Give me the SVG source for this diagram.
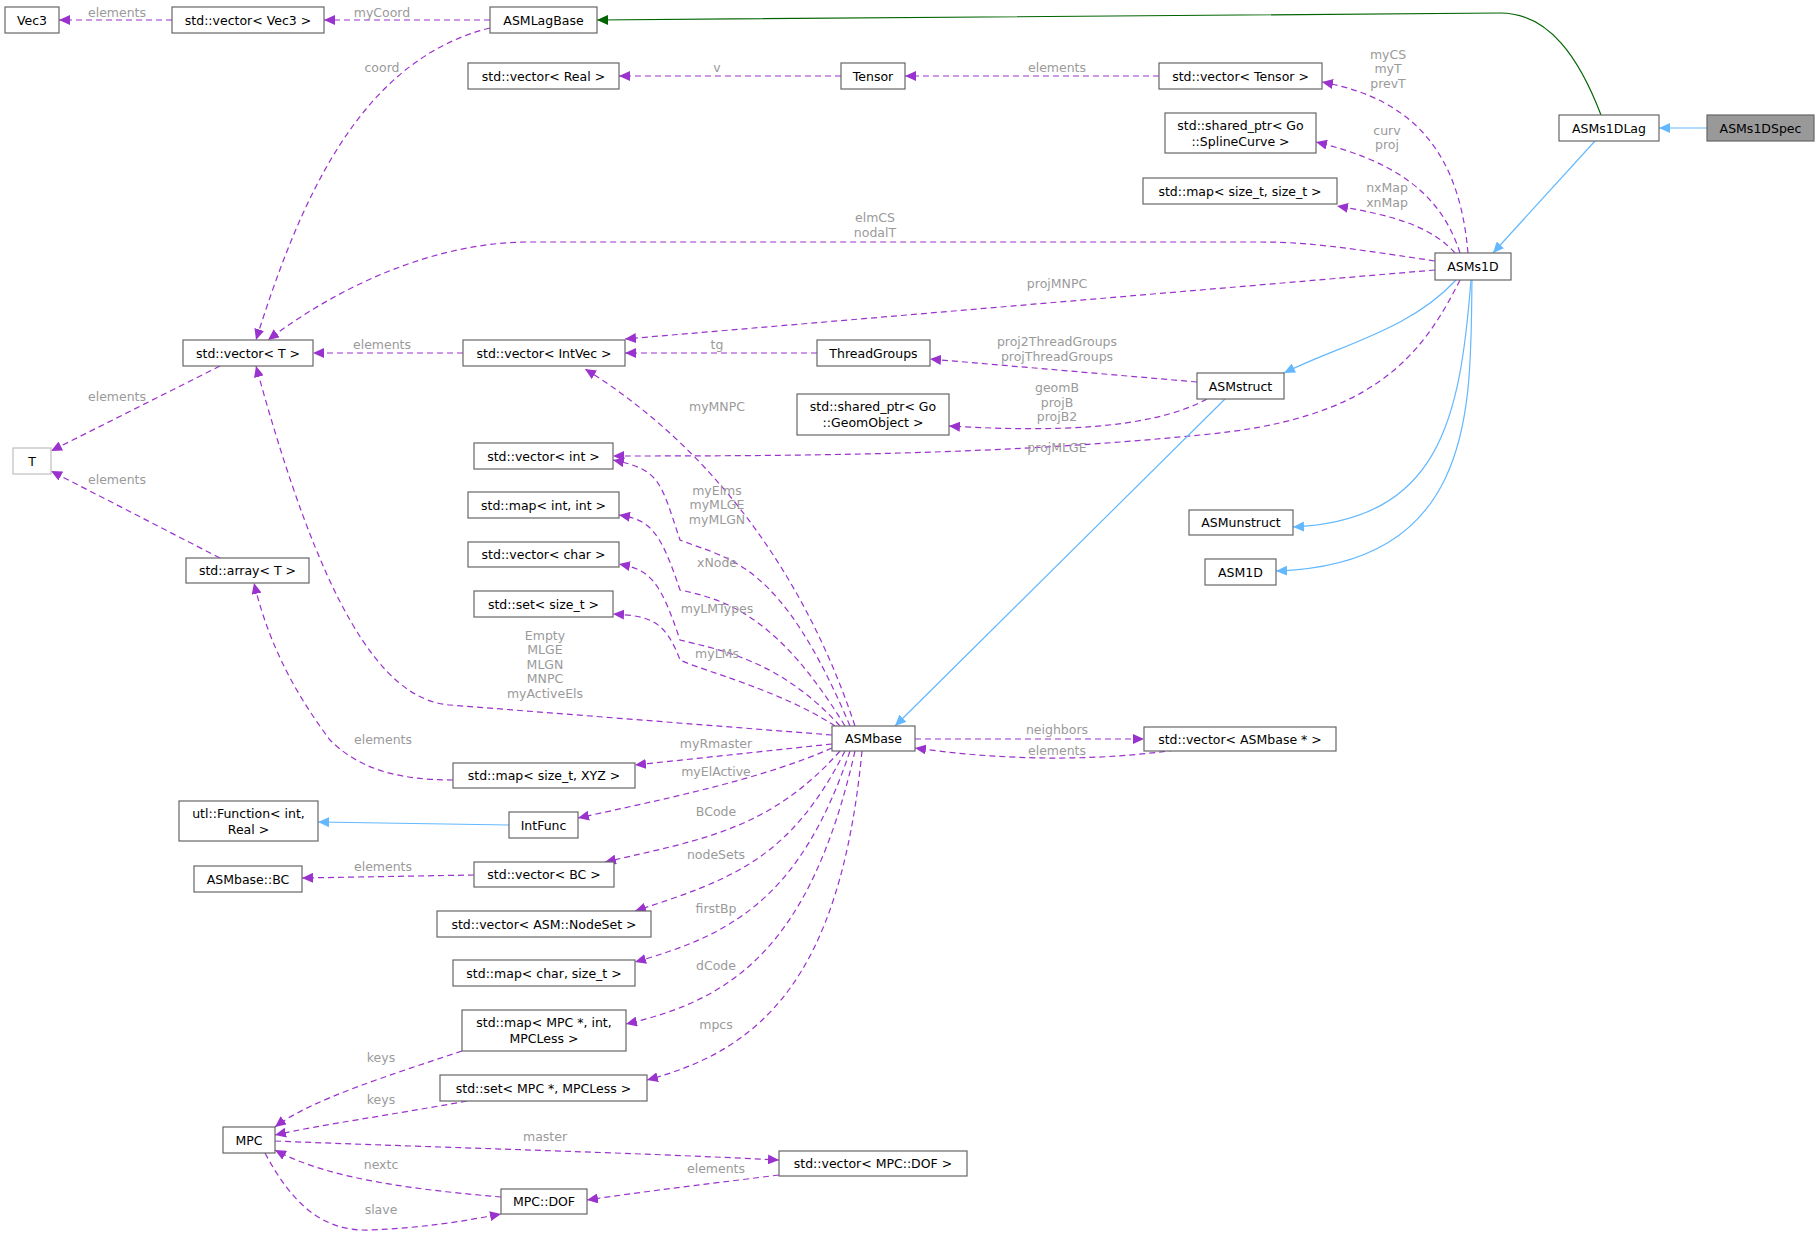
<svg xmlns="http://www.w3.org/2000/svg" width="1820" height="1234" viewBox="0 0 1820 1234">
<defs>
<style>
.n rect{fill:#fff;stroke:#666;stroke-width:1.2}
.n text{font-family:"DejaVu Sans",sans-serif;font-size:12.5px;fill:#000;text-anchor:middle}
.e path{fill:none}
.d{stroke:#9a32cd;stroke-width:1.2;stroke-dasharray:6,4;marker-end:url(#mp)}
.b{stroke:#63b8ff;stroke-width:1.2;marker-end:url(#mb)}
.g{stroke:#006400;stroke-width:1.2;marker-end:url(#mg)}
.l{font-family:"DejaVu Sans",sans-serif;font-size:12.5px;fill:#9a9a9a;text-anchor:middle}
</style>
<marker id="mp" markerUnits="userSpaceOnUse" markerWidth="12" markerHeight="10" refX="11" refY="5" orient="auto"><path d="M0,0 L11,5 L0,10 z" fill="#9a32cd"/></marker>
<marker id="mb" markerUnits="userSpaceOnUse" markerWidth="12" markerHeight="10" refX="11" refY="5" orient="auto"><path d="M0,0 L11,5 L0,10 z" fill="#63b8ff"/></marker>
<marker id="mg" markerUnits="userSpaceOnUse" markerWidth="12" markerHeight="10" refX="11" refY="5" orient="auto"><path d="M0,0 L11,5 L0,10 z" fill="#006400"/></marker>
</defs>
<rect width="1820" height="1234" fill="#fff"/>
<g id="edges" class="e">
<path class="d" d="M172,20 H59"/>
<path class="d" d="M490,20 H324"/>
<path class="d" d="M490,28 C360,60 300,200 256,340"/>
<path class="g" d="M1601,115 C1580,60 1550,13 1500,13 L597,20"/>
<path class="b" d="M1707,128 H1659"/>
<path class="b" d="M1595,141 L1493,253"/>
<path class="d" d="M841,76 H619"/>
<path class="d" d="M1159,76 H905"/>
<path class="d" d="M1468,253 C1460,160 1420,100 1322,82"/>
<path class="d" d="M1460,253 C1440,190 1390,160 1316,142"/>
<path class="d" d="M1455,253 C1430,225 1390,215 1337,206"/>
<path class="d" d="M1435,261 C1330,245 1300,242 1260,242 L530,242 C420,242 320,300 268,340"/>
<path class="d" d="M1435,270 L625,339"/>
<path class="b" d="M1456,280 C1410,330 1340,345 1284,373"/>
<path class="d" d="M1460,280 C1420,360 1370,420 1200,435 C1000,455 800,456 613,456"/>
<path class="b" d="M1471,280 C1460,420 1440,520 1293,527"/>
<path class="b" d="M1472,280 C1470,400 1480,565 1276,571"/>
<path class="d" d="M1197,382 L930,359"/>
<path class="d" d="M1207,399 C1150,430 1050,432 949,426"/>
<path class="d" d="M817,353 H625"/>
<path class="d" d="M463,353 H313"/>
<path class="d" d="M220,366 L51,451"/>
<path class="d" d="M220,558 L51,471"/>
<path class="b" d="M1225,399 L895,726"/>
<path class="d" d="M855,726 C800,560 700,440 585,369"/>
<path class="d" d="M850,726 C780,560 730,560 680,540 C660,480 660,470 613,460"/>
<path class="d" d="M845,726 C780,620 730,600 680,590 C660,530 650,520 619,515"/>
<path class="d" d="M840,726 C780,660 720,650 680,640 C660,580 650,570 619,564"/>
<path class="d" d="M835,726 C780,690 700,670 680,660 C665,620 650,616 613,614"/>
<path class="d" d="M832,735 L450,705 C380,700 320,600 256,366"/>
<path class="d" d="M832,744 L635,765"/>
<path class="d" d="M453,780 C400,780 360,770 330,740 C300,700 270,650 254,583"/>
<path class="d" d="M832,748 C760,780 660,800 578,818"/>
<path class="b" d="M509,825 L318,822"/>
<path class="d" d="M840,751 C770,830 700,840 605,862"/>
<path class="d" d="M474,875 L302,878"/>
<path class="d" d="M845,751 C790,860 730,880 635,911"/>
<path class="d" d="M850,751 C800,900 730,935 635,962"/>
<path class="d" d="M855,751 C810,950 730,1000 626,1024"/>
<path class="d" d="M862,751 C840,980 760,1050 647,1080"/>
<path class="d" d="M915,739 H1144"/>
<path class="d" d="M1175,750 C1090,762 1000,760 915,748"/>
<path class="d" d="M462,1051 C390,1075 310,1100 275,1127"/>
<path class="d" d="M467,1101 C390,1115 320,1125 275,1135"/>
<path class="d" d="M275,1141 C450,1148 620,1152 779,1160"/>
<path class="d" d="M501,1197 C420,1190 330,1180 275,1150"/>
<path class="d" d="M265,1153 C290,1200 320,1232 370,1230 C420,1228 460,1222 501,1214"/>
<path class="d" d="M779,1175 C700,1185 640,1192 587,1200"/>
</g>
<g id="labels">
<text class="l" x="117" y="17">elements</text>
<text class="l" x="382" y="17">myCoord</text>
<text class="l" x="382" y="72">coord</text>
<text class="l" x="717" y="72">v</text>
<text class="l" x="1057" y="72">elements</text>
<text class="l" x="1388" y="59">myCS</text>
<text class="l" x="1388" y="73">myT</text>
<text class="l" x="1388" y="88">prevT</text>
<text class="l" x="1387" y="135">curv</text>
<text class="l" x="1387" y="149">proj</text>
<text class="l" x="1387" y="192">nxMap</text>
<text class="l" x="1387" y="207">xnMap</text>
<text class="l" x="875" y="222">elmCS</text>
<text class="l" x="875" y="237">nodalT</text>
<text class="l" x="1057" y="288">projMNPC</text>
<text class="l" x="1057" y="346">proj2ThreadGroups</text>
<text class="l" x="1057" y="361">projThreadGroups</text>
<text class="l" x="1057" y="392">geomB</text>
<text class="l" x="1057" y="407">projB</text>
<text class="l" x="1057" y="421">projB2</text>
<text class="l" x="1057" y="452">projMLGE</text>
<text class="l" x="717" y="349">tg</text>
<text class="l" x="382" y="349">elements</text>
<text class="l" x="117" y="401">elements</text>
<text class="l" x="117" y="484">elements</text>
<text class="l" x="717" y="411">myMNPC</text>
<text class="l" x="717" y="495">myElms</text>
<text class="l" x="717" y="509">myMLGE</text>
<text class="l" x="717" y="524">myMLGN</text>
<text class="l" x="717" y="567">xNode</text>
<text class="l" x="717" y="613">myLMTypes</text>
<text class="l" x="717" y="658">myLMs</text>
<text class="l" x="545" y="640">Empty</text>
<text class="l" x="545" y="654">MLGE</text>
<text class="l" x="545" y="669">MLGN</text>
<text class="l" x="545" y="683">MNPC</text>
<text class="l" x="545" y="698">myActiveEls</text>
<text class="l" x="383" y="744">elements</text>
<text class="l" x="716" y="748">myRmaster</text>
<text class="l" x="716" y="776">myElActive</text>
<text class="l" x="716" y="816">BCode</text>
<text class="l" x="383" y="871">elements</text>
<text class="l" x="716" y="859">nodeSets</text>
<text class="l" x="716" y="913">firstBp</text>
<text class="l" x="716" y="970">dCode</text>
<text class="l" x="716" y="1029">mpcs</text>
<text class="l" x="1057" y="734">neighbors</text>
<text class="l" x="1057" y="755">elements</text>
<text class="l" x="381" y="1062">keys</text>
<text class="l" x="381" y="1104">keys</text>
<text class="l" x="545" y="1141">master</text>
<text class="l" x="381" y="1169">nextc</text>
<text class="l" x="716" y="1173">elements</text>
<text class="l" x="381" y="1214">slave</text>
</g>
<g id="Vec3" class="n"><rect x="5" y="7" width="54" height="26"/><text x="32" y="24.5">Vec3</text></g>
<g id="vecVec3" class="n"><rect x="172" y="7" width="152" height="26"/><text x="248" y="24.5">std::vector&lt; Vec3 &gt;</text></g>
<g id="ASMLagBase" class="n"><rect x="490" y="7" width="107" height="26"/><text x="543.5" y="24.5">ASMLagBase</text></g>
<g id="vecReal" class="n"><rect x="468" y="63" width="151" height="26"/><text x="543.5" y="80.5">std::vector&lt; Real &gt;</text></g>
<g id="Tensor" class="n"><rect x="841" y="63" width="64" height="26"/><text x="873" y="80.5">Tensor</text></g>
<g id="vecTensor" class="n"><rect x="1159" y="63" width="163" height="26"/><text x="1240.5" y="80.5">std::vector&lt; Tensor &gt;</text></g>
<g id="spSpline" class="n"><rect x="1165" y="113" width="151" height="40"/><text x="1240.5" y="130">std::shared_ptr&lt; Go</text><text x="1240.5" y="146">::SplineCurve &gt;</text></g>
<g id="mapSizeT" class="n"><rect x="1143" y="178" width="194" height="26"/><text x="1240" y="195.5">std::map&lt; size_t, size_t &gt;</text></g>
<g id="ASMs1DLag" class="n"><rect x="1559" y="115" width="100" height="26"/><text x="1609" y="132.5">ASMs1DLag</text></g>
<g id="ASMs1DSpec" class="n"><rect x="1707" y="115" width="107" height="26" style="fill:#999;stroke:#666"/><text x="1760.5" y="132.5">ASMs1DSpec</text></g>
<g id="ASMs1D" class="n"><rect x="1435" y="253" width="76" height="27"/><text x="1473" y="271">ASMs1D</text></g>
<g id="vecT" class="n"><rect x="183" y="340" width="130" height="26"/><text x="248" y="357.5">std::vector&lt; T &gt;</text></g>
<g id="vecIntVec" class="n"><rect x="463" y="340" width="162" height="26"/><text x="544" y="357.5">std::vector&lt; IntVec &gt;</text></g>
<g id="ThreadGroups" class="n"><rect x="817" y="340" width="113" height="26"/><text x="873.5" y="357.5">ThreadGroups</text></g>
<g id="spGeom" class="n"><rect x="797" y="394" width="152" height="41"/><text x="873" y="411">std::shared_ptr&lt; Go</text><text x="873" y="427">::GeomObject &gt;</text></g>
<g id="ASMstruct" class="n"><rect x="1197" y="373" width="87" height="26"/><text x="1240.5" y="390.5">ASMstruct</text></g>
<g id="T" class="n"><rect x="13" y="448" width="38" height="26" style="stroke:#bfbfbf"/><text x="32" y="465.5">T</text></g>
<g id="vecInt" class="n"><rect x="474" y="443" width="139" height="26"/><text x="543.5" y="460.5">std::vector&lt; int &gt;</text></g>
<g id="mapIntInt" class="n"><rect x="468" y="492" width="151" height="26"/><text x="543.5" y="509.5">std::map&lt; int, int &gt;</text></g>
<g id="ASMunstruct" class="n"><rect x="1189" y="510" width="104" height="25"/><text x="1241" y="527">ASMunstruct</text></g>
<g id="vecChar" class="n"><rect x="468" y="542" width="151" height="25"/><text x="543.5" y="559">std::vector&lt; char &gt;</text></g>
<g id="arrT" class="n"><rect x="186" y="558" width="123" height="25"/><text x="247.5" y="575">std::array&lt; T &gt;</text></g>
<g id="ASM1D" class="n"><rect x="1205" y="559" width="71" height="26"/><text x="1240.5" y="576.5">ASM1D</text></g>
<g id="setSizeT" class="n"><rect x="474" y="591" width="139" height="26"/><text x="543.5" y="608.5">std::set&lt; size_t &gt;</text></g>
<g id="ASMbase" class="n"><rect x="832" y="726" width="83" height="25"/><text x="873.5" y="743">ASMbase</text></g>
<g id="vecASMbase" class="n"><rect x="1144" y="727" width="192" height="24"/><text x="1240" y="743.5">std::vector&lt; ASMbase * &gt;</text></g>
<g id="mapXYZ" class="n"><rect x="453" y="763" width="182" height="25"/><text x="544" y="780">std::map&lt; size_t, XYZ &gt;</text></g>
<g id="utlFunction" class="n"><rect x="179" y="801" width="139" height="40"/><text x="248.5" y="818">utl::Function&lt; int,</text><text x="248.5" y="834">Real &gt;</text></g>
<g id="IntFunc" class="n"><rect x="509" y="812" width="69" height="26"/><text x="543.5" y="829.5">IntFunc</text></g>
<g id="vecBC" class="n"><rect x="474" y="862" width="140" height="25"/><text x="544" y="879">std::vector&lt; BC &gt;</text></g>
<g id="ASMbaseBC" class="n"><rect x="194" y="866" width="108" height="26"/><text x="248" y="883.5">ASMbase::BC</text></g>
<g id="vecNodeSet" class="n"><rect x="437" y="911" width="214" height="26"/><text x="544" y="928.5">std::vector&lt; ASM::NodeSet &gt;</text></g>
<g id="mapChar" class="n"><rect x="453" y="960" width="182" height="26"/><text x="544" y="977.5">std::map&lt; char, size_t &gt;</text></g>
<g id="mapMPC" class="n"><rect x="462" y="1010" width="164" height="41"/><text x="544" y="1027">std::map&lt; MPC *, int,</text><text x="544" y="1043">MPCLess &gt;</text></g>
<g id="setMPC" class="n"><rect x="440" y="1075" width="207" height="26"/><text x="543.5" y="1092.5">std::set&lt; MPC *, MPCLess &gt;</text></g>
<g id="MPC" class="n"><rect x="223" y="1127" width="52" height="26"/><text x="249" y="1144.5">MPC</text></g>
<g id="vecDOF" class="n"><rect x="779" y="1151" width="188" height="25"/><text x="873" y="1168">std::vector&lt; MPC::DOF &gt;</text></g>
<g id="MPCDOF" class="n"><rect x="501" y="1189" width="86" height="25"/><text x="544" y="1206">MPC::DOF</text></g>
</svg>
